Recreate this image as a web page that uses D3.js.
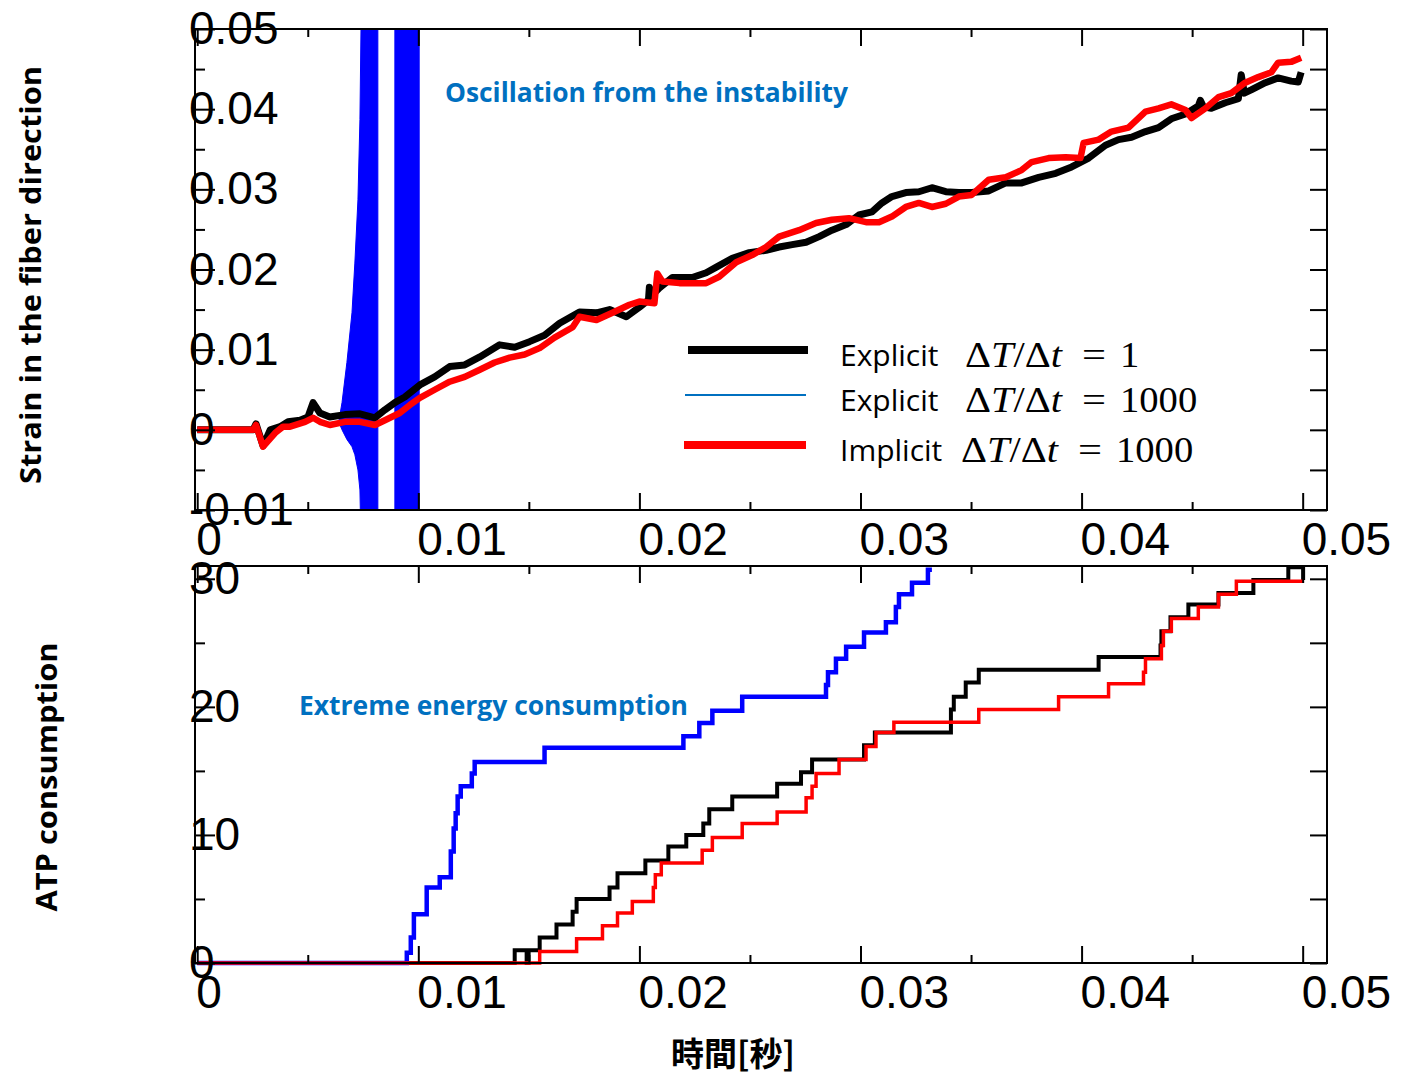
<!DOCTYPE html>
<html>
<head>
<meta charset="utf-8">
<script src="https://cdn.jsdelivr.net/npm/d3@7"></script>
<style>
  html, body { margin: 0; padding: 0; background: #fff; }
  svg { display: block; }
</style>
</head>
<body>
<svg id="chart" width="1402" height="1075"></svg>
<script>
// ---- Time ticks (seconds) ----
const timeTicksMajor = [0, 0.01, 0.02, 0.03, 0.04, 0.05];
const timeTicksMinor = [0.005, 0.015, 0.025, 0.035, 0.045];
const timeTickLabels = ["0", "0.01", "0.02", "0.03", "0.04", "0.05"];

// ---- Strain panel ticks ----
const strainTicksMajor = [-0.01, 0, 0.01, 0.02, 0.03, 0.04, 0.05];
const strainTicksMinor = [-0.005, 0.005, 0.015, 0.025, 0.035, 0.045];
const strainTickLabels = ["-0.01", "0", "0.01", "0.02", "0.03", "0.04", "0.05"];

// ---- ATP panel ticks ----
const atpTicksMajor = [0, 10, 20, 30];
const atpTicksMinor = [5, 15, 25];
const atpTickLabels = ["0", "10", "20", "30"];

// ---- Strain in the fiber direction: [time, strain] ----
const strainExplicit1 = [
  [0, 0], [0.00253, 0], [0.00266, 0.00075], [0.00298, -0.0020], [0.00330, 0.0000],
  [0.00375, 0.0004], [0.00411, 0.0010], [0.00465, 0.0012], [0.00501, 0.0016],
  [0.00524, 0.0034], [0.00555, 0.0021], [0.00600, 0.0016], [0.00668, 0.0019],
  [0.00736, 0.0020], [0.00804, 0.0015], [0.00849, 0.0025], [0.00894, 0.0034],
  [0.00939, 0.0041], [0.01007, 0.0056], [0.01074, 0.0066], [0.01142, 0.0079],
  [0.01210, 0.0081], [0.01278, 0.0091], [0.01368, 0.0106], [0.01436, 0.0103],
  [0.01503, 0.0110], [0.01571, 0.0118], [0.01639, 0.0133], [0.01729, 0.0147],
  [0.01806, 0.0146], [0.01865, 0.0150], [0.01941, 0.0141], [0.02000, 0.0153],
  [0.02041, 0.0162], [0.02045, 0.0178], [0.02054, 0.0167], [0.02090, 0.0177],
  [0.02149, 0.0190], [0.02239, 0.0190], [0.02302, 0.0196], [0.02348, 0.0203],
  [0.02420, 0.0214], [0.02497, 0.0221], [0.02573, 0.0224], [0.02632, 0.0228],
  [0.02691, 0.0231], [0.02754, 0.0234], [0.02813, 0.0241], [0.02871, 0.0249],
  [0.02935, 0.0256], [0.02993, 0.0268], [0.03052, 0.0272], [0.03097, 0.0283],
  [0.03142, 0.0291], [0.03205, 0.0296], [0.03264, 0.0297], [0.03323, 0.0302],
  [0.03386, 0.0297], [0.03445, 0.0296], [0.03503, 0.0296], [0.03580, 0.0298],
  [0.03657, 0.0308], [0.03729, 0.0308], [0.03806, 0.0315], [0.03883, 0.0320],
  [0.03955, 0.0328], [0.04032, 0.0339], [0.04108, 0.0355], [0.04167, 0.0362],
  [0.04226, 0.0365], [0.04289, 0.0372], [0.04348, 0.0377], [0.04406, 0.0388],
  [0.04470, 0.0394], [0.04528, 0.0404], [0.04537, 0.0411], [0.04551, 0.0403],
  [0.04587, 0.0401], [0.04650, 0.0408], [0.04709, 0.0413], [0.04722, 0.0443],
  [0.04736, 0.0420], [0.04767, 0.0424], [0.04831, 0.0433], [0.04889, 0.0439],
  [0.04948, 0.0435], [0.04980, 0.0434], [0.04993, 0.0446]
];

const strainImplicit1000 = [
  [0, 0], [0.00253, 0], [0.00266, 0.0006], [0.00298, -0.0021], [0.00352, -0.0004],
  [0.00388, 0.0004], [0.00420, 0.0004], [0.00488, 0.0010], [0.00524, 0.0015],
  [0.00555, 0.0010], [0.00600, 0.0006], [0.00668, 0.0010], [0.00736, 0.0010],
  [0.00804, 0.0006], [0.00849, 0.0012], [0.00916, 0.0021], [0.00962, 0.0031],
  [0.01007, 0.0040], [0.01074, 0.0050], [0.01142, 0.0060], [0.01210, 0.0066],
  [0.01278, 0.0075], [0.01345, 0.0084], [0.01413, 0.0090], [0.01481, 0.0094],
  [0.01549, 0.0102], [0.01616, 0.0115], [0.01698, 0.0128], [0.01729, 0.0141],
  [0.01806, 0.0137], [0.01878, 0.0146], [0.01955, 0.0156], [0.02000, 0.0160],
  [0.02068, 0.0158], [0.02081, 0.0195], [0.02104, 0.0185], [0.02181, 0.0183],
  [0.02257, 0.0183], [0.02302, 0.0183], [0.02361, 0.0191], [0.02438, 0.0209],
  [0.02510, 0.0218], [0.02573, 0.0228], [0.02632, 0.0241], [0.02722, 0.0249],
  [0.02799, 0.0258], [0.02871, 0.0262], [0.02948, 0.0264], [0.03025, 0.0259],
  [0.03084, 0.0259], [0.03142, 0.0266], [0.03205, 0.0278], [0.03264, 0.0283],
  [0.03323, 0.0278], [0.03386, 0.0282], [0.03445, 0.0291], [0.03503, 0.0293],
  [0.03580, 0.0312], [0.03657, 0.0315], [0.03729, 0.0324], [0.03774, 0.0334],
  [0.03851, 0.0339], [0.03928, 0.0340], [0.03995, 0.0339], [0.04009, 0.0358],
  [0.04077, 0.0362], [0.04135, 0.0372], [0.04212, 0.0377], [0.04289, 0.0397],
  [0.04348, 0.0401], [0.04406, 0.0406], [0.04470, 0.0399], [0.04497, 0.0389],
  [0.04560, 0.0401], [0.04619, 0.0415], [0.04677, 0.0420], [0.04740, 0.0433],
  [0.04799, 0.0440], [0.04858, 0.0446], [0.04889, 0.0458], [0.04948, 0.0459],
  [0.04993, 0.0464]
];

// Explicit dT/dt = 1000: envelope of the unstable oscillation [time, low, high]
// (null marks the interval where the solution leaves the plotted range entirely)
const strainExplicit1000Envelope = [
  [0.00640, 0.0010, 0.0010], [0.00655, 0.0000, 0.0034], [0.00677, -0.0012, 0.0084],
  [0.00700, -0.0021, 0.0146], [0.00713, -0.0031, 0.0208], [0.00727, -0.0050, 0.0287],
  [0.00736, -0.0075, 0.0387], [0.00745, -0.0200, 0.0600], [0.00817, -0.0200, 0.0600],
  null,
  [0.00894, -0.0200, 0.0600], [0.01004, -0.0200, 0.0600]
];

// ---- ATP consumption: step changes [time, cumulative ATP] ----
const atpExplicit1 = [
  [0, 0], [0.01436, 1.0], [0.01490, 0], [0.01499, 1.0], [0.01549, 2.0],
  [0.01625, 3.0], [0.01698, 4.0], [0.01716, 5.0], [0.01865, 5.9], [0.01901, 7.0],
  [0.02027, 8.0], [0.02131, 9.1], [0.02212, 10.0], [0.02289, 10.9], [0.02316, 12.0],
  [0.02420, 13.0], [0.02623, 14.0], [0.02731, 14.9], [0.02781, 15.9], [0.03016, 17.0],
  [0.03065, 18.0], [0.03409, 19.8], [0.03422, 20.8], [0.03476, 21.9], [0.03535, 22.9],
  [0.04077, 23.9], [0.04357, 24.8], [0.04361, 25.9], [0.04402, 27.0], [0.04483, 28.0],
  [0.04619, 28.9], [0.04777, 29.9], [0.04935, 30.9], [0.05002, 29.9]
];

const atpExplicit1000 = [
  [0, 0], [0.00948, 0.8], [0.00966, 2.0], [0.00980, 3.8], [0.01038, 5.9],
  [0.01097, 6.7], [0.01147, 8.7], [0.01160, 10.5], [0.01169, 11.7], [0.01178, 13.0],
  [0.01192, 13.8], [0.01242, 14.8], [0.01255, 15.7], [0.01571, 16.8], [0.02199, 17.7],
  [0.02271, 18.75], [0.02330, 19.7], [0.02465, 20.8], [0.02844, 21.7], [0.02853, 22.7],
  [0.02889, 23.75], [0.02935, 24.7], [0.03016, 25.8], [0.03115, 26.6], [0.03160, 27.8],
  [0.03174, 28.8], [0.03233, 29.7], [0.03305, 30.7], [0.03323, 30.7]
];

const atpImplicit1000 = [
  [0, 0], [0.01549, 0.9], [0.01716, 1.9], [0.01833, 2.9], [0.01901, 3.9],
  [0.01968, 4.8], [0.02063, 5.9], [0.02072, 6.9], [0.02099, 7.8], [0.02284, 8.8],
  [0.02330, 9.8], [0.02465, 10.9], [0.02623, 11.8], [0.02754, 12.9], [0.02781, 13.8],
  [0.02799, 14.8], [0.02903, 15.9], [0.03025, 16.9], [0.03070, 18.0], [0.03151, 18.8],
  [0.03535, 19.8], [0.03896, 20.8], [0.04122, 21.8], [0.04280, 22.7], [0.04289, 23.75],
  [0.04361, 24.8], [0.04370, 25.9], [0.04406, 26.9], [0.04528, 27.8], [0.04619, 28.8],
  [0.04700, 29.8], [0.05002, 29.8]
];

// ---- Labels ----
const legendLabels = ["Explicit", "Explicit", "Implicit"];
const legendRatios = ["1", "1000", "1000"];
const strainTitle = "Strain in the fiber direction";
const atpTitle = "ATP consumption";
const timeTitle = "時間[秒]";
const strainNote = "Oscillation from the instability";
const atpNote = "Extreme energy consumption";

// ================= drawing =================
const svg = d3.select("#chart");
const tickFont = "'Liberation Sans', Arial, sans-serif";
const titleFont = "'Open Sans', 'Noto Sans', sans-serif";
const mathFont = "'Liberation Serif', 'DejaVu Serif', serif";
const noteBlue = "#0070C0";

const plotLeft = 195, plotRight = 1327;
const strainBox = { top: 29, bottom: 510 };
const atpBox = { top: 566, bottom: 963 };

const x = d3.scaleLinear().domain([-0.0001, 0.0511]).range([plotLeft, plotRight]);
const yStrain = d3.scaleLinear().domain([-0.01, 0.05]).range([strainBox.bottom, strainBox.top]);
const yAtp = d3.scaleLinear().domain([0, 31]).range([atpBox.bottom, atpBox.top]);

const defs = svg.append("defs");
function clipFor(id, box, extraBottom) {
  defs.append("clipPath").attr("id", id).append("rect")
    .attr("x", plotLeft).attr("y", box.top)
    .attr("width", plotRight - plotLeft).attr("height", box.bottom - box.top + extraBottom);
}
clipFor("clipStrain", strainBox, 0);
clipFor("clipAtp", atpBox, 6);

// inward ticks for one panel
function drawTicks(box, yScale, yMajor, yMinor) {
  const g = svg.append("g").attr("class", "ticks");
  const tickStyle = sel => sel.call(s => s.select(".domain").remove())
    .call(s => s.selectAll("line").attr("stroke", "#000").attr("stroke-width", 2));
  g.append("g").attr("transform", `translate(0,${box.bottom})`)
    .call(d3.axisBottom(x).tickValues(timeTicksMajor).tickSize(-17).tickFormat("")).call(tickStyle);
  g.append("g").attr("transform", `translate(0,${box.bottom})`)
    .call(d3.axisBottom(x).tickValues(timeTicksMinor).tickSize(-8).tickFormat("")).call(tickStyle);
  g.append("g").attr("transform", `translate(0,${box.top})`)
    .call(d3.axisTop(x).tickValues(timeTicksMajor).tickSize(-17).tickFormat("")).call(tickStyle);
  g.append("g").attr("transform", `translate(0,${box.top})`)
    .call(d3.axisTop(x).tickValues(timeTicksMinor).tickSize(-8).tickFormat("")).call(tickStyle);
  g.append("g").attr("transform", `translate(${plotLeft},0)`)
    .call(d3.axisLeft(yScale).tickValues(yMajor).tickSize(-20).tickFormat("")).call(tickStyle);
  g.append("g").attr("transform", `translate(${plotLeft},0)`)
    .call(d3.axisLeft(yScale).tickValues(yMinor).tickSize(-10).tickFormat("")).call(tickStyle);
  g.append("g").attr("transform", `translate(${plotRight},0)`)
    .call(d3.axisRight(yScale).tickValues(yMajor.concat(yMinor)).tickSize(-17).tickFormat("")).call(tickStyle);
  svg.append("rect").attr("x", plotLeft).attr("y", box.top)
    .attr("width", plotRight - plotLeft).attr("height", box.bottom - box.top)
    .attr("fill", "none").attr("stroke", "#000").attr("stroke-width", 2);
}

function drawTickLabels(box, yScale, yMajor, yLabels) {
  const g = svg.append("g").attr("font-family", tickFont).attr("font-size", 46).attr("fill", "#000");
  g.selectAll("text.xl").data(timeTicksMajor).join("text").attr("class", "xl")
    .attr("x", d => x(d) - 1).attr("y", box.bottom + 45)
    .text((d, i) => timeTickLabels[i]);
  g.selectAll("text.yl").data(yMajor).join("text").attr("class", "yl")
    .attr("x", 189).attr("y", d => yScale(d) + 15)
    .text((d, i) => yLabels[i]);
}

// ---- strain panel ----
const strainPlot = svg.append("g").attr("clip-path", "url(#clipStrain)");
strainPlot.append("path")
  .datum(strainExplicit1000Envelope)
  .attr("fill", "#0000ff")
  .attr("stroke", "#0000ff").attr("stroke-width", 1)
  .attr("d", d3.area().defined(d => d !== null)
    .x(d => x(d[0])).y0(d => yStrain(d[1])).y1(d => yStrain(d[2])));

const strainLine = d3.line().x(d => x(d[0])).y(d => yStrain(d[1]));
strainPlot.append("path").datum(strainExplicit1)
  .attr("fill", "none").attr("stroke", "#000").attr("stroke-width", 7)
  .attr("stroke-linejoin", "round").attr("d", strainLine);
strainPlot.append("path").datum(strainImplicit1000)
  .attr("fill", "none").attr("stroke", "#ff0000").attr("stroke-width", 6.5)
  .attr("stroke-linejoin", "round").attr("d", strainLine);

drawTicks(strainBox, yStrain, strainTicksMajor, strainTicksMinor);
drawTickLabels(strainBox, yStrain, strainTicksMajor, strainTickLabels);

// ---- ATP panel ----
const atpPlot = svg.append("g").attr("clip-path", "url(#clipAtp)");
const atpLine = d3.line().curve(d3.curveStepAfter).x(d => x(d[0])).y(d => yAtp(d[1]));
atpPlot.append("path").datum(atpExplicit1)
  .attr("fill", "none").attr("stroke", "#000").attr("stroke-width", 4).attr("d", atpLine);
atpPlot.append("path").datum(atpExplicit1000)
  .attr("fill", "none").attr("stroke", "#0000ff").attr("stroke-width", 4.5).attr("d", atpLine);
atpPlot.append("path").datum(atpImplicit1000)
  .attr("fill", "none").attr("stroke", "#ff0000").attr("stroke-width", 3.5).attr("d", atpLine);

drawTicks(atpBox, yAtp, atpTicksMajor, atpTicksMinor);
drawTickLabels(atpBox, yAtp, atpTicksMajor, atpTickLabels);

// ---- legend ----
const legendRows = [
  { y: 350, color: "#000", width: 8, x1: 688, x2: 808, mathX: 965 },
  { y: 395, color: noteBlue, width: 2, x1: 685, x2: 806, mathX: 965 },
  { y: 445, color: "#ff0000", width: 8, x1: 684, x2: 806, mathX: 961 }
];
const legend = svg.append("g");
legendRows.forEach((r, i) => {
  legend.append("line").attr("x1", r.x1).attr("x2", r.x2).attr("y1", r.y).attr("y2", r.y)
    .attr("stroke", r.color).attr("stroke-width", r.width);
  legend.append("text").attr("x", 840).attr("y", r.y + 16)
    .attr("font-family", titleFont).attr("font-size", 30).attr("fill", "#000")
    .text(legendLabels[i]);
  const m = legend.append("g").attr("font-family", mathFont).attr("font-size", 36).attr("fill", "#000");
  const ratio = m.append("text").attr("x", r.mathX).attr("y", r.y + 17)
    .attr("textLength", 97).attr("lengthAdjust", "spacingAndGlyphs");
  ratio.append("tspan").text("Δ");
  ratio.append("tspan").attr("font-style", "italic").text("T");
  ratio.append("tspan").text("/Δ");
  ratio.append("tspan").attr("font-style", "italic").text("t");
  m.append("text").attr("x", r.mathX + 117).attr("y", r.y + 17)
    .attr("textLength", 24).attr("lengthAdjust", "spacingAndGlyphs").text("=");
  m.append("text").attr("x", r.mathX + 155).attr("y", r.y + 17)
    .attr("textLength", legendRatios[i].length * 19.3).attr("lengthAdjust", "spacingAndGlyphs")
    .text(legendRatios[i]);
});

// ---- annotations ----
svg.append("text").attr("x", 445).attr("y", 102)
  .attr("font-family", titleFont).attr("font-weight", 700).attr("font-size", 26)
  .attr("fill", noteBlue).attr("textLength", 403).attr("lengthAdjust", "spacingAndGlyphs")
  .text(strainNote);
svg.append("text").attr("x", 299).attr("y", 715)
  .attr("font-family", titleFont).attr("font-weight", 700).attr("font-size", 26)
  .attr("fill", noteBlue).attr("textLength", 389).attr("lengthAdjust", "spacingAndGlyphs")
  .text(atpNote);

// ---- axis titles ----
svg.append("text").attr("transform", "translate(41,275) rotate(-90)")
  .attr("text-anchor", "middle").attr("font-family", titleFont).attr("font-weight", 700)
  .attr("font-size", 28).attr("textLength", 418).attr("lengthAdjust", "spacingAndGlyphs")
  .text(strainTitle);
svg.append("text").attr("transform", "translate(57,777) rotate(-90)")
  .attr("text-anchor", "middle").attr("font-family", titleFont).attr("font-weight", 700)
  .attr("font-size", 28).attr("textLength", 269).attr("lengthAdjust", "spacingAndGlyphs")
  .text(atpTitle);
svg.append("text").attr("x", 733).attr("y", 1066)
  .attr("text-anchor", "middle").attr("font-family", "'Noto Sans CJK JP', sans-serif")
  .attr("font-weight", 700).attr("font-size", 33)
  .text(timeTitle);
</script>
</body>
</html>
